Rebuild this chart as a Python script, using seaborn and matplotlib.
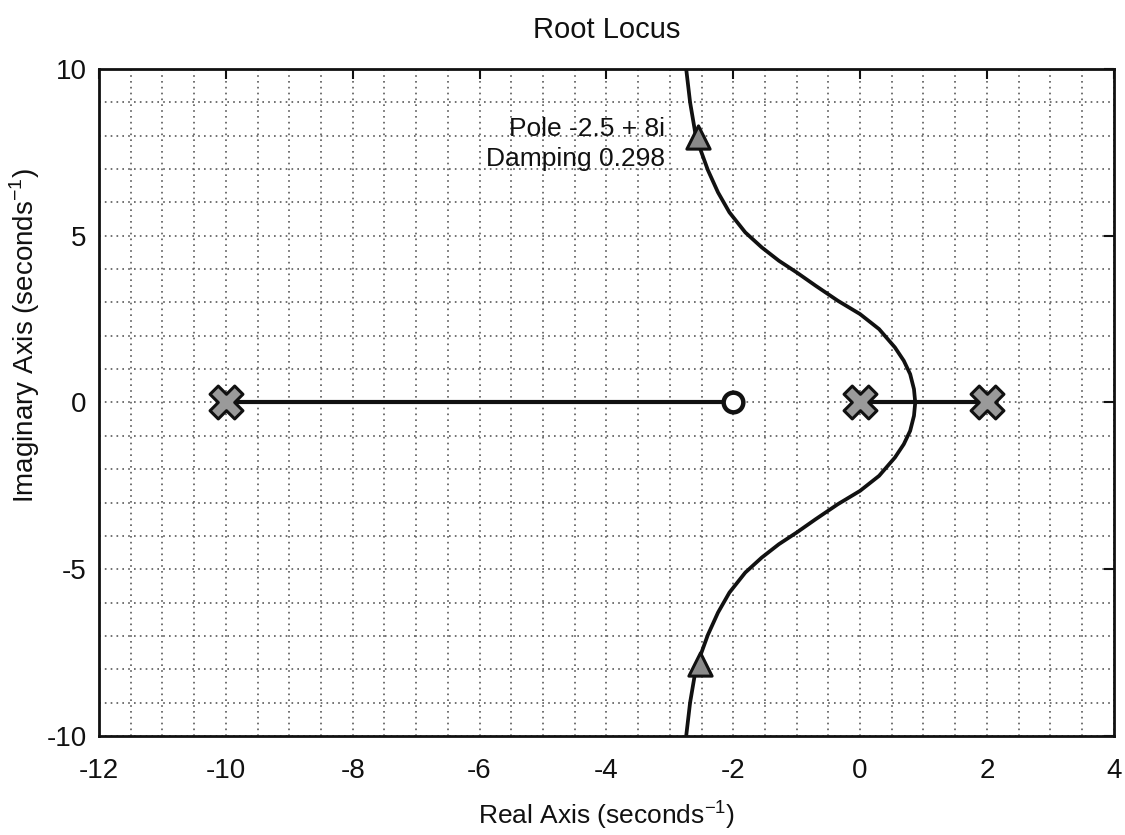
import numpy as np
import pandas as pd
import matplotlib
matplotlib.use("Agg")
import matplotlib.pyplot as plt
import seaborn as sns

# ------------------------------------------------------------------
# data read off the scanned root locus
# ------------------------------------------------------------------
pole_re = [-10.0, 0.0, 2.0]
pole_im = [0.0, 0.0, 0.0]
zero_re = [-2.0]
zero_im = [0.0]

# real-axis segments of the locus
seg1_re = [-10.0, -2.0]
seg2_re = [0.0, 2.0]
seg_im = [0.0, 0.0]

# complex branch (upper half), from breakaway point upwards
upper_re = [0.87, 0.85, 0.79, 0.69, 0.55, 0.30, 0.00, -0.35, -0.70, -1.00,
            -1.28, -1.55, -1.81, -2.06, -2.24, -2.40, -2.52, -2.60, -2.68, -2.76]
upper_im = [0.00, 0.40, 0.85, 1.25, 1.65, 2.20, 2.65, 3.05, 3.50, 3.90,
            4.25, 4.65, 5.10, 5.70, 6.30, 6.97, 7.60, 8.10, 9.00, 10.30]
# lower half (complex conjugate)
lower_re = [0.87, 0.85, 0.79, 0.69, 0.55, 0.30, 0.00, -0.35, -0.70, -1.00,
            -1.28, -1.55, -1.81, -2.06, -2.24, -2.40, -2.52, -2.60, -2.68, -2.76]
lower_im = [-0.00, -0.40, -0.85, -1.25, -1.65, -2.20, -2.65, -3.05, -3.50, -3.90,
            -4.25, -4.65, -5.10, -5.70, -6.30, -6.97, -7.60, -8.10, -9.00, -10.30]

# data-tip markers
tip_re = [-2.56, -2.53]
tip_im = [7.95, -7.85]
tip_text = "Pole -2.5 + 8i\nDamping 0.298"

x_ticks = [-12, -10, -8, -6, -4, -2, 0, 2, 4]
y_ticks = [-10, -5, 0, 5, 10]

# ------------------------------------------------------------------
sns.set_theme(style="white")
plt.rcParams["font.family"] = ["Liberation Sans", "DejaVu Sans"]
plt.rcParams["mathtext.fontset"] = "custom"
plt.rcParams["mathtext.rm"] = "Liberation Sans"
plt.rcParams["axes.unicode_minus"] = False

fig = plt.figure(figsize=(11.25, 8.35), dpi=100)
ax = fig.add_axes([0.088, 0.1186, 0.902, 0.7988])

ink = "#111111"

# locus
for xs, ys in [(seg1_re, seg_im), (seg2_re, seg_im)]:
    sns.lineplot(x=xs, y=ys, ax=ax, color=ink, linewidth=3.0, sort=False, zorder=3)
sns.lineplot(x=upper_re, y=upper_im, ax=ax, color=ink, linewidth=2.7, sort=False, zorder=3)
sns.lineplot(x=lower_re, y=lower_im, ax=ax, color=ink, linewidth=2.7, sort=False, zorder=3)

# poles / zeros / data tips
sns.scatterplot(x=pole_re, y=pole_im, ax=ax, marker="X", s=560, color="#9a9a9a",
                edgecolor=ink, linewidth=2.2, zorder=5)
sns.scatterplot(x=zero_re, y=zero_im, ax=ax, marker="o", s=200, color="white",
                edgecolor=ink, linewidth=3.2, zorder=5)
sns.scatterplot(x=tip_re, y=tip_im, ax=ax, marker="^", s=280, color="#8a8a8a",
                edgecolor=ink, linewidth=2.2, zorder=5)

ax.text(-3.08, 7.75, tip_text, ha="right", va="center", multialignment="right",
        fontsize=19, color=ink, linespacing=1.35)

ax.set_xlim(-12, 4)
ax.set_ylim(-10, 10)
ax.set_xticks(x_ticks)
ax.set_yticks(y_ticks)
ax.set_xticks(np.arange(-12, 4.01, 0.5), minor=True)
ax.set_yticks(np.arange(-10, 10.01, 1), minor=True)

ax.grid(which="both", color="0.35", linestyle=(0, (1, 2.5)), linewidth=1.2)
ax.tick_params(which="major", direction="in", length=7, width=1.5,
               top=True, right=True, labelsize=20, colors=ink)
ax.tick_params(axis="x", which="major", pad=16)
ax.tick_params(axis="y", which="major", pad=9)
ax.tick_params(which="minor", length=0)
for sp in ax.spines.values():
    sp.set_color(ink)
    sp.set_linewidth(2.0)

ax.set_title("Root Locus", fontsize=21, pad=22, color=ink)
ax.set_xlabel(r"Real Axis (seconds$^{\mathregular{-1}}$)", fontsize=19, labelpad=10, color=ink)
ax.set_ylabel(r"Imaginary Axis (seconds$^{\mathregular{-1}}$)", fontsize=20, color=ink)
ax.yaxis.set_label_coords(-0.056, 0.6)

fig.savefig("out.png", dpi=100, facecolor="white")
